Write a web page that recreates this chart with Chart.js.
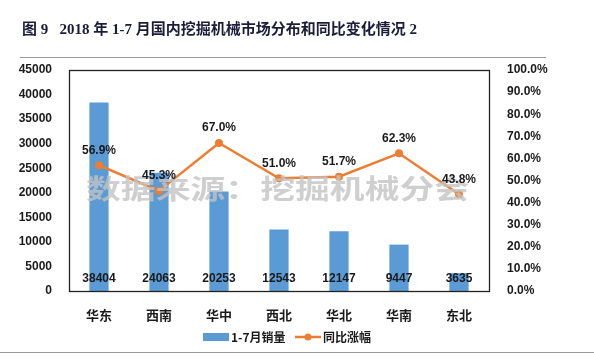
<!DOCTYPE html>
<html><head><meta charset="utf-8">
<script src="https://cdn.jsdelivr.net/npm/chart.js@4"></script>
<style>html,body{margin:0;padding:0;background:#fff}#wrap{width:594px;height:360px}</style>
</head><body><div id="wrap"><canvas id="c" width="594" height="360"></canvas></div>
<script>
const categories = ['华东','西南','华中','西北','华北','华南','东北'];
const sales = [38404, 24063, 20253, 12543, 12147, 9447, 3635];
const growth = [56.9, 45.3, 67.0, 51.0, 51.7, 62.3, 43.8];
const salesLabel = '1-7月销量';
const growthLabel = '同比涨幅';
const titleText = '图 9   2018 年 1-7 月国内挖掘机械市场分布和同比变化情况 2';
const watermark = '数据来源：挖掘机械分会';

const FONT = 'Arial, "Liberation Sans", "Noto Sans CJK SC", sans-serif';
const BLUE = '#5B9BD5', ORANGE = '#ED7D31';

const deco = {
  id: 'deco',
  beforeDraw(chart) {
    const ctx = chart.ctx;
    ctx.save();
    ctx.fillStyle = '#fff';
    ctx.fillRect(0, 0, chart.width, chart.height);
    ctx.strokeStyle = '#9a9a9a';
    ctx.lineWidth = 1;
    ctx.beginPath(); ctx.moveTo(20, 57.5); ctx.lineTo(546, 57.5); ctx.stroke();
    ctx.beginPath(); ctx.moveTo(0, 352.5); ctx.lineTo(594, 352.5); ctx.stroke();
    ctx.fillStyle = '#1c1c3a';
    ctx.font = 'bold 15px "Liberation Serif", "Noto Sans CJK SC", serif';
    ctx.textBaseline = 'middle';
    ctx.textAlign = 'left';
    ctx.fillText(titleText, 22, 30);
    ctx.restore();
  },
  afterDatasetsDraw(chart) {
    const ctx = chart.ctx;
    const a = chart.chartArea;
    ctx.save();
    ctx.fillStyle = 'rgba(195,195,195,0.8)';
    ctx.font = 'bold 27px "Noto Sans CJK SC", sans-serif';
    ctx.textBaseline = 'middle';
    ctx.textAlign = 'left';
    ctx.translate(86, 189);
    ctx.scale(1.29, 1);
    ctx.fillText(watermark, 0, 0);
    ctx.setTransform(1, 0, 0, 1, 0, 0);
    ctx.restore();
    ctx.save();

    ctx.strokeStyle = '#222';
    ctx.lineWidth = 1.3;
    ctx.strokeRect(Math.round(a.left)+0.5, Math.round(a.top)+0.5, Math.round(a.right-a.left), Math.round(a.bottom-a.top));
    ctx.font = 'bold 12px ' + FONT;
    ctx.fillStyle = '#1a1a1a';
    ctx.textAlign = 'center';
    ctx.textBaseline = 'middle';
    const mBar = chart.getDatasetMeta(1);
    mBar.data.forEach((el, i) => { ctx.fillText(String(sales[i]), el.x, a.bottom - 12); });
    const mLine = chart.getDatasetMeta(0);
    mLine.data.forEach((el, i) => { ctx.fillText(growth[i].toFixed(1) + '%', el.x, el.y - 15); });
    // legend
    const cy = 337;
    ctx.fillStyle = BLUE;
    ctx.fillRect(203, cy - 4, 26, 8);
    ctx.fillStyle = '#1a1a1a';
    ctx.textAlign = 'left';
    ctx.font = 'bold 12px "Noto Sans CJK SC", ' + FONT;
    ctx.fillText(salesLabel, 231, cy);
    ctx.strokeStyle = ORANGE; ctx.lineWidth = 2.5;
    ctx.beginPath(); ctx.moveTo(295, cy); ctx.lineTo(321, cy); ctx.stroke();
    ctx.fillStyle = ORANGE;
    ctx.beginPath(); ctx.arc(308, cy, 3.5, 0, Math.PI*2); ctx.fill();
    ctx.fillStyle = '#1a1a1a';
    ctx.fillText(growthLabel, 323, cy);
    ctx.restore();
  }
};

new Chart(document.getElementById('c'), {
  data: {
    labels: categories,
    datasets: [
      { type: 'line', label: growthLabel, data: growth.map(v => v / 100), yAxisID: 'y1',
        borderColor: ORANGE, backgroundColor: ORANGE, borderWidth: 2.5,
        pointRadius: 4, pointBackgroundColor: ORANGE, pointBorderWidth: 0, tension: 0, order: 0 },
      { type: 'bar', label: salesLabel, data: sales, yAxisID: 'y',
        backgroundColor: BLUE, barPercentage: 0.32, categoryPercentage: 1, order: 1 }
    ]
  },
  options: {
    responsive: false, animation: false,
    layout: { padding: { top: 70, bottom: 38, left: 0, right: 45 } },
    plugins: { legend: { display: false }, title: { display: false }, tooltip: { enabled: false } },
    scales: {
      x: { grid: { display: false }, border: { display: false },
        ticks: { color: '#1a1a1a', font: { size: 13, weight: 'bold', family: '"Noto Sans CJK SC", sans-serif' }, padding: 8 },
        afterFit(s) { s.height = 31; } },
      y: { position: 'left', min: 0, max: 45000, grid: { display: false }, border: { display: false },
        ticks: { stepSize: 5000, color: '#1a1a1a', font: { size: 12, weight: 'bold', family: FONT }, padding: 9,
          callback: v => String(v) },
        afterFit(s) { s.width = 69; } },
      y1: { position: 'right', min: 0, max: 1, grid: { display: false }, border: { display: false },
        ticks: { stepSize: 0.1, color: '#1a1a1a', font: { size: 12, weight: 'bold', family: FONT }, padding: 10,
          callback: v => (v * 100).toFixed(1) + '%' },
        afterFit(s) { s.width = 60; } }
    }
  },
  plugins: [deco]
});
</script></body></html>
